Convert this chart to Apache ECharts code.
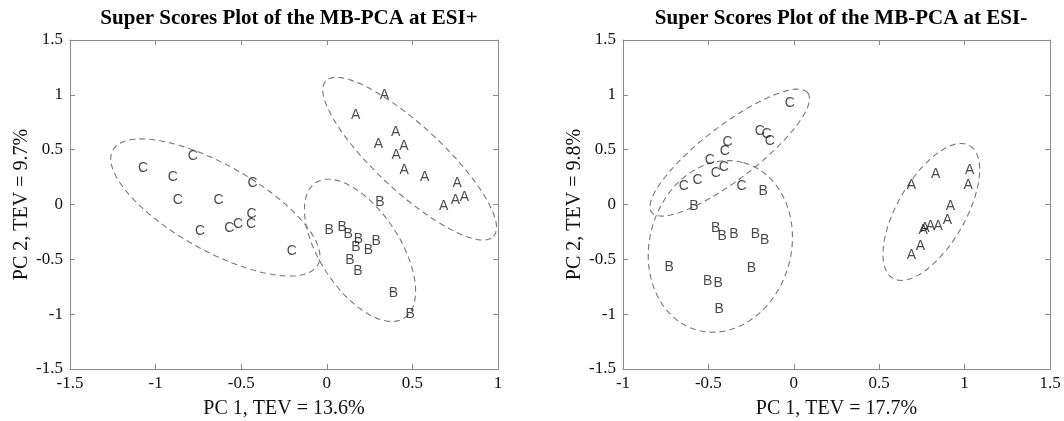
<!DOCTYPE html>
<html>
<head>
    <meta charset="utf-8">
    <script src="https://cdn.jsdelivr.net/npm/echarts@6/dist/echarts.min.js"></script>
    <style type="text/css">
        html, body { width: 100%; height: 100%; margin: 0; background: #fff; }
        #chart { width: 1064px; height: 421px; }
    </style>
</head>
<body>
<div id="chart"></div>
<script type="text/javascript">
    // ESI+ scores
    var posA = [[0.336,0.997],[0.168,0.815],[0.403,0.657],[0.301,0.552],[0.450,0.530],[0.405,0.452],
                [0.452,0.309],[0.571,0.248],[0.761,0.197],[0.683,-0.015],[0.751,0.043],[0.804,0.066]];
    var posB = [[0.311,0.025],[0.014,-0.230],[0.090,-0.206],[0.125,-0.267],[0.184,-0.312],[0.170,-0.388],
                [0.243,-0.418],[0.288,-0.336],[0.135,-0.509],[0.182,-0.609],[0.389,-0.812],[0.487,-1.003]];
    var posC = [[-1.074,0.334],[-0.782,0.443],[-0.900,0.248],[-0.433,0.197],[-0.870,0.043],[-0.632,0.036],
                [-0.741,-0.239],[-0.569,-0.215],[-0.518,-0.182],[-0.440,-0.088],[-0.442,-0.182],[-0.205,-0.425]];
    // ESI- scores
    var negA = [[0.689,0.173],[0.831,0.279],[1.030,0.309],[1.021,0.173],[0.917,-0.018],[0.900,-0.145],
                [0.845,-0.200],[0.800,-0.200],[0.767,-0.212],[0.757,-0.236],[0.742,-0.382],[0.689,-0.464]];
    var negB = [[-0.180,0.118],[-0.585,-0.018],[-0.457,-0.212],[-0.420,-0.288],[-0.351,-0.267],[-0.224,-0.273],
                [-0.170,-0.321],[-0.730,-0.570],[-0.248,-0.579],[-0.505,-0.697],[-0.443,-0.721],[-0.437,-0.957]];
    var negC = [[-0.023,0.921],[-0.199,0.666],[-0.160,0.643],[-0.141,0.582],[-0.388,0.566],[-0.404,0.491],
                [-0.492,0.406],[-0.410,0.345],[-0.457,0.285],[-0.564,0.225],[-0.644,0.164],[-0.306,0.164]];

    // ellipses: centre x, centre y, semi-axis 1 (dx, dy), semi-axis 2 (dx, dy)
    var posEllA = [0.484, 0.418, 0.490, -0.709, 0.132, 0.219];
    var posEllB = [0.194, -0.418, 0.258, -0.618, 0.197, 0.197];
    var posEllC = [-0.651, -0.027, 0.598, -0.525, 0.125, 0.340];
    var negEllA = [0.805, -0.068, 0.225, 0.605, 0.172, -0.155];
    var negEllB = [-0.430, -0.382, 0.135, 0.764, 0.400, -0.170];
    var negEllC = [-0.375, 0.473, 0.457, 0.545, 0.0966, -0.195];

    var titles = ['Super Scores Plot of the MB-PCA at ESI+', 'Super Scores Plot of the MB-PCA at ESI-'];
    var xNames = ['PC 1, TEV = 13.6%', 'PC 1, TEV = 17.7%'];
    var yNames = ['PC 2, TEV = 9.7%', 'PC 2, TEV = 9.8%'];
    var xRanges = [[-1.5, 1], [-1, 1.5]];
    var yRange = [-1.5, 1.5];

    function ellipse(e) {
        var pts = [];
        for (var i = 0; i <= 120; i++) {
            var t = i / 120 * Math.PI * 2;
            pts.push([e[0] + e[2] * Math.cos(t) + e[4] * Math.sin(t),
                      e[1] + e[3] * Math.cos(t) + e[5] * Math.sin(t)]);
        }
        return pts;
    }

    var serif = 'Liberation Serif';
    var frame = '#8a8a8a';

    function xAx(i, pos) {
        var main = pos === 'bottom';
        return {
            type: 'value', gridIndex: i, position: pos,
            min: xRanges[i][0], max: xRanges[i][1], interval: 0.5,
            name: main ? xNames[i] : '', nameLocation: 'middle', nameGap: 30,
            nameTextStyle: { fontFamily: serif, fontSize: 20, color: '#111' },
            axisLine: { show: true, onZero: false, lineStyle: { color: frame, width: 1 } },
            axisTick: { show: true, inside: true, length: 5, lineStyle: { color: frame } },
            axisLabel: { show: main, fontFamily: serif, fontSize: 17, color: '#111', margin: 6 },
            splitLine: { show: false }
        };
    }
    function yAx(i, pos) {
        var main = pos === 'left';
        return {
            type: 'value', gridIndex: i, position: pos,
            min: yRange[0], max: yRange[1], interval: 0.5,
            name: main ? yNames[i] : '', nameLocation: 'middle', nameGap: 37,
            nameTextStyle: { fontFamily: serif, fontSize: 20, color: '#111' },
            axisLine: { show: true, onZero: false, lineStyle: { color: frame, width: 1 } },
            axisTick: { show: true, inside: true, length: 5, lineStyle: { color: frame } },
            axisLabel: { show: main, fontFamily: serif, fontSize: 17, color: '#111', margin: 7 },
            splitLine: { show: false }
        };
    }

    function letters(data, ch, i) {
        return {
            type: 'scatter', xAxisIndex: i * 2, yAxisIndex: i * 2, data: data,
            symbolSize: 1, itemStyle: { color: 'rgba(0,0,0,0)' },
            label: { show: true, position: 'inside', formatter: ch, color: '#1a1a1a',
                     fontFamily: 'Liberation Sans', fontSize: 14 },
            silent: true, z: 3
        };
    }
    function ring(e, i) {
        return {
            type: 'line', xAxisIndex: i * 2, yAxisIndex: i * 2, data: ellipse(e),
            showSymbol: false, symbol: 'none', smooth: false,
            lineStyle: { color: '#777', width: 1.1, type: [6, 4] },
            silent: true, z: 2
        };
    }

    var chart = echarts.init(document.getElementById('chart'));
    chart.setOption({
        animation: false,
        backgroundColor: '#fff',
        title: [
            { text: titles[0], left: 284, top: 3, textAlign: 'center',
              textStyle: { fontFamily: serif, fontSize: 21, fontWeight: 'bold', color: '#000' } },
            { text: titles[1], left: 836, top: 3, textAlign: 'center',
              textStyle: { fontFamily: serif, fontSize: 21, fontWeight: 'bold', color: '#000' } }
        ],
        grid: [
            { left: 70, right: 566, top: 40, bottom: 52, outerBoundsMode: 'none', containLabel: false },
            { left: 623, right: 14, top: 40, bottom: 52, outerBoundsMode: 'none', containLabel: false }
        ],
        xAxis: [xAx(0, 'bottom'), xAx(0, 'top'), xAx(1, 'bottom'), xAx(1, 'top')],
        yAxis: [yAx(0, 'left'), yAx(0, 'right'), yAx(1, 'left'), yAx(1, 'right')],
        series: [
            ring(posEllA, 0), ring(posEllB, 0), ring(posEllC, 0),
            letters(posA, 'A', 0), letters(posB, 'B', 0), letters(posC, 'C', 0),
            ring(negEllA, 1), ring(negEllB, 1), ring(negEllC, 1),
            letters(negA, 'A', 1), letters(negB, 'B', 1), letters(negC, 'C', 1)
        ]
    });
</script>
</body>
</html>
